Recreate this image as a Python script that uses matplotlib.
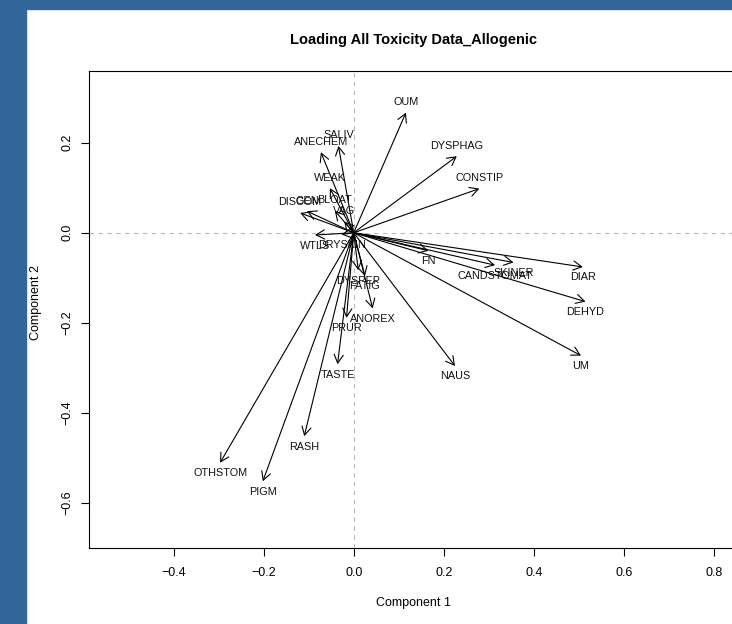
#!/usr/bin/env python3
"""
Loading plot (biplot arrows) for the allogenic toxicity data.
"""

import matplotlib
matplotlib.use("Agg")
import matplotlib.pyplot as plt
from matplotlib.patches import Rectangle

# loadings
labels = ['OUM', 'SALIV', 'ANECHEM', 'DYSPHAG', 'CONSTIP', 'WEAK', 'DISCOM', 'GEN',
          'BLOAT', 'VAG', 'WTLS', 'DRYSKIN', 'FN', 'CANDSTOMAT', 'SKINER', 'DIAR',
          'DEHYD', 'UM', 'NAUS', 'DYSPEP', 'FATIG', 'ANOREX', 'PRUR', 'TASTE',
          'RASH', 'OTHSTOM', 'PIGM']
comp1 = [0.116, -0.034, -0.073, 0.229, 0.279, -0.053, -0.119, -0.104,
         -0.042, -0.021, -0.086, -0.027, 0.166, 0.314, 0.355, 0.509,
         0.515, 0.505, 0.225, 0.010, 0.025, 0.042, -0.016, -0.036,
         -0.110, -0.297, -0.202]
comp2 = [0.267, 0.193, 0.179, 0.170, 0.098, 0.099, 0.044, 0.048,
         0.049, 0.025, -0.005, -0.004, -0.040, -0.072, -0.066, -0.076,
         -0.153, -0.273, -0.296, -0.083, -0.096, -0.168, -0.189, -0.292,
         -0.452, -0.511, -0.552]

x_ticks = [-0.4, -0.2, 0.0, 0.2, 0.4, 0.6, 0.8]
y_ticks = [-0.6, -0.4, -0.2, 0.0, 0.2]

plt.rcParams['font.family'] = ['Liberation Sans', 'DejaVu Sans']

W, H = 732, 624
fig = plt.figure(figsize=(W / 100, H / 100), dpi=100)

# blue frame on the left and top
fig.patches.append(Rectangle((0, 0), 26 / W, 1, transform=fig.transFigure,
                             color='#33669a', zorder=0))
fig.patches.append(Rectangle((0, 1 - 9 / H), 1, 9 / H, transform=fig.transFigure,
                             color='#33669a', zorder=0))

# plot box: left 89px, top 71px, bottom 548px, right edge just off the canvas
ax = fig.add_axes([89.3 / W, (H - 548.3) / H, (736.7 - 89.3) / W, 477 / H])
ax.set_xlim(-0.5876, 0.851)
ax.set_ylim(-0.701, 0.3587)

ax.axhline(0, color='#b8b8b8', ls=(0, (4, 4)), lw=0.8, zorder=1)
ax.axvline(0, color='#b8b8b8', ls=(0, (4, 4)), lw=0.8, zorder=1)

for name, x, y in zip(labels, comp1, comp2):
    ax.annotate('', xy=(x, y), xytext=(0, 0),
                arrowprops=dict(arrowstyle='->,head_length=0.6,head_width=0.33',
                                color='black', lw=0.8, shrinkA=0, shrinkB=0))
    dy = 10.5 if y >= 0 else -10.5
    ax.annotate(name, xy=(x, y), xytext=(0, dy), textcoords='offset pixels',
                ha='center', va='center', fontsize=7.8, color='#111111')

for s in ax.spines.values():
    s.set_linewidth(0.8)

ax.set_xticks(x_ticks)
ax.set_xticklabels([f'{t:.1f}'.replace('-', '\u2212') for t in x_ticks])
ax.set_yticks(y_ticks)
ax.set_yticklabels([f'{t:.1f}'.replace('-', '\u2212') for t in y_ticks])
ax.tick_params(direction='out', length=5.5, width=0.8, labelsize=9, pad=6)
ax.tick_params(axis='x', pad=8)
ax.tick_params(axis='y', labelrotation=90)
for lab in ax.get_yticklabels():
    lab.set_va('center')

fig.text(413 / W, 1 - 40 / H, 'Loading All Toxicity Data_Allogenic',
         ha='center', va='center', fontsize=10.5, fontweight='bold')
fig.text(413 / W, 1 - 603 / H, 'Component 1', ha='center', va='center', fontsize=9)
fig.text(36 / W, 1 - 302 / H, 'Component 2', ha='center', va='center',
         rotation=90, fontsize=9)

fig.savefig('out.png', dpi=100)
